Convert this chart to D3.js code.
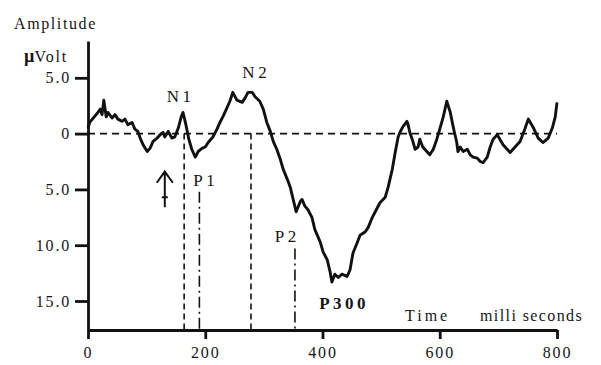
<!DOCTYPE html>
<html>
<head>
<meta charset="utf-8">
<script src="https://cdn.jsdelivr.net/npm/d3@7"></script>
<style>
  body { margin: 0; background: #fff; }
  svg { display: block; }
  text { font-family: "Liberation Serif", "Times New Roman", serif; fill: #151515; }
</style>
</head>
<body>
<script>
// ERP trace, time in ms, amplitude in microvolt (negative plotted upwards)
const times = [0, 3, 17, 21, 24, 27, 31, 34, 41, 46, 51, 58, 63, 68, 75, 80, 85, 89, 94, 101,
  106, 111, 118, 123, 128, 131, 137, 143, 148, 154, 159, 162, 167, 172, 177, 183, 188, 195, 200,
  205, 213, 220, 225, 230, 237, 242, 247, 254, 263, 268, 273, 280, 285, 293, 299, 305, 311, 316,
  322, 328, 333, 340, 345, 350, 355, 362, 365, 370, 375, 382, 387, 396, 401, 408, 413, 416, 421,
  427, 433, 442, 447, 452, 459, 464, 473, 478, 485, 490, 498, 507, 512, 519, 524, 529, 532, 537,
  544, 546, 549, 553, 558, 563, 566, 571, 578, 583, 589, 595, 600, 606, 612, 618, 623, 629, 631,
  635, 640, 647, 652, 657, 664, 669, 674, 681, 686, 691, 698, 708, 720, 725, 737, 745, 751, 759,
  768, 776, 785, 792, 797, 800];
const amplitudes = [-0.5, -1.0, -1.9, -2.2, -1.7, -3.0, -1.5, -1.9, -1.4, -1.7, -1.3, -1.1, -1.3,
  -0.8, -1.0, -0.4, -0.2, 0.4, 1.0, 1.6, 1.3, 0.7, 0.4, 0.1, -0.1, 0.3, -0.2, 0.4, 0.3, -0.5, -1.5,
  -1.9, -0.8, 0.5, 1.4, 2.1, 1.6, 1.3, 1.2, 0.8, 0.3, -0.4, -1.0, -1.5, -2.3, -2.9, -3.7, -3.0,
  -2.8, -3.2, -3.7, -3.7, -3.3, -2.9, -2.2, -1.0, -0.2, 0.7, 1.4, 2.3, 3.2, 4.1, 4.8, 5.9, 7.0,
  6.1, 5.9, 6.5, 6.8, 7.5, 8.6, 9.7, 10.6, 11.3, 12.4, 13.3, 12.6, 12.9, 12.6, 12.8, 12.2, 10.7,
  9.8, 9.1, 8.8, 8.4, 7.5, 7.0, 6.2, 5.7, 4.8, 3.2, 1.7, 0.3, -0.1, -0.6, -1.1, -0.8, -0.1, 0.5,
  1.4, 1.2, 0.5, 1.2, 1.6, 1.9, 1.4, 0.5, -0.4, -1.5, -2.9, -1.9, -0.6, 0.8, 1.6, 1.2, 1.6, 1.4,
  1.9, 2.1, 2.2, 2.5, 2.6, 2.1, 1.2, 0.5, 0.1, 1.0, 1.7, 1.4, 0.7, -0.4, -1.3, -0.6, 0.4, 0.8,
  0.4, -0.5, -1.5, -2.8];

const yTickValues = [-5, 0, 5, 10, 15];
const yTickLabels = ["5.0", "0", "5.0", "10.0", "15.0"];
const xTickValues = [0, 200, 400, 600, 800];

// components and latencies (ms)
const peakNames = ["N1", "P1", "N2", "P2", "P300"];
const peakLatency = [164, 190, 278, 353, 430];
const stimulusTime = 131;

const W = 601, H = 365;
const svg = d3.select("body").append("svg").attr("width", W).attr("height", H);

const x = d3.scaleLinear().domain([0, 800]).range([88, 557]);
const y = d3.scaleLinear().domain([-8.3, 17.6]).range([41, 330]);

// zero line
svg.append("line")
  .attr("x1", x(0)).attr("x2", x(800))
  .attr("y1", y(0)).attr("y2", y(0))
  .attr("stroke", "#111").attr("stroke-width", 1.6)
  .attr("stroke-dasharray", "7,5");

// latency markers
const markerTop = [0, 5.2, 0, 10.3];
const markerDash = ["6,4", "11,4,2,4", "6,4", "11,4,2,4"];
peakLatency.slice(0, 4).forEach((t, i) => {
  svg.append("line")
    .attr("x1", x(t)).attr("x2", x(t))
    .attr("y1", y(markerTop[i])).attr("y2", y(17.6))
    .attr("stroke", "#111").attr("stroke-width", 1.6)
    .attr("stroke-dasharray", markerDash[i]);
});

// axes
const yAxis = svg.append("g")
  .attr("transform", `translate(${x(0)},0)`)
  .call(d3.axisLeft(y).tickValues(yTickValues)
    .tickFormat((d, i) => yTickLabels[i])
    .tickSize(13).tickSizeOuter(0).tickPadding(4));

const xAxis = svg.append("g")
  .attr("transform", `translate(0,${y(17.6)})`)
  .call(d3.axisBottom(x).tickValues(xTickValues)
    .tickSize(9).tickSizeOuter(0).tickPadding(8));

[yAxis, xAxis].forEach(g => {
  g.selectAll("path, line").attr("stroke", "#111").attr("stroke-width", 2.8);
  g.selectAll("text").attr("font-family", "Liberation Serif, serif")
    .attr("font-size", 16).attr("letter-spacing", 1.8).attr("fill", "#151515");
});

// trace
const pts = times.map((t, i) => [t, amplitudes[i]]);
svg.append("path")
  .attr("d", d3.line().x(d => x(d[0])).y(d => y(d[1]))(pts))
  .attr("fill", "none").attr("stroke", "#111")
  .attr("stroke-width", 2.9).attr("stroke-linejoin", "round");

// stimulus arrow
const ax = x(stimulusTime);
svg.append("path")
  .attr("d", `M${ax},${y(6.6)}V${y(3.4)}M${ax - 8},${y(4.4)}L${ax},${y(3.4)}L${ax + 8},${y(4.4)}M${ax - 3},${y(5.7)}H${ax + 3}`)
  .attr("fill", "none").attr("stroke", "#111").attr("stroke-width", 2);

// component labels
const labelT = [158, 201, 287, 340, 437];
const labelV = [-2.8, 4.7, -5.0, 9.7, 15.7];
peakNames.forEach((n, i) => {
  svg.append("text")
    .attr("x", x(labelT[i])).attr("y", y(labelV[i]))
    .attr("text-anchor", "middle")
    .attr("font-size", 17).attr("letter-spacing", 3.5)
    .attr("font-weight", n === "P300" ? "bold" : "normal")
    .text(n);
});

// axis titles
svg.append("text").attr("x", 14).attr("y", 29)
  .attr("font-size", 16).attr("letter-spacing", 1.6).text("Amplitude");
const uv = svg.append("text").attr("x", 24).attr("y", 62).attr("font-size", 16);
uv.append("tspan").attr("font-weight", "bold").attr("font-size", 18).text("µ");
uv.append("tspan").attr("letter-spacing", 1.8).text("Volt");
svg.append("text").attr("x", 405).attr("y", 321)
  .attr("font-size", 16).attr("letter-spacing", 3).text("Time");
svg.append("text").attr("x", 480).attr("y", 321)
  .attr("font-size", 16).attr("letter-spacing", 1.4).text("milli seconds");
</script>
</body>
</html>
